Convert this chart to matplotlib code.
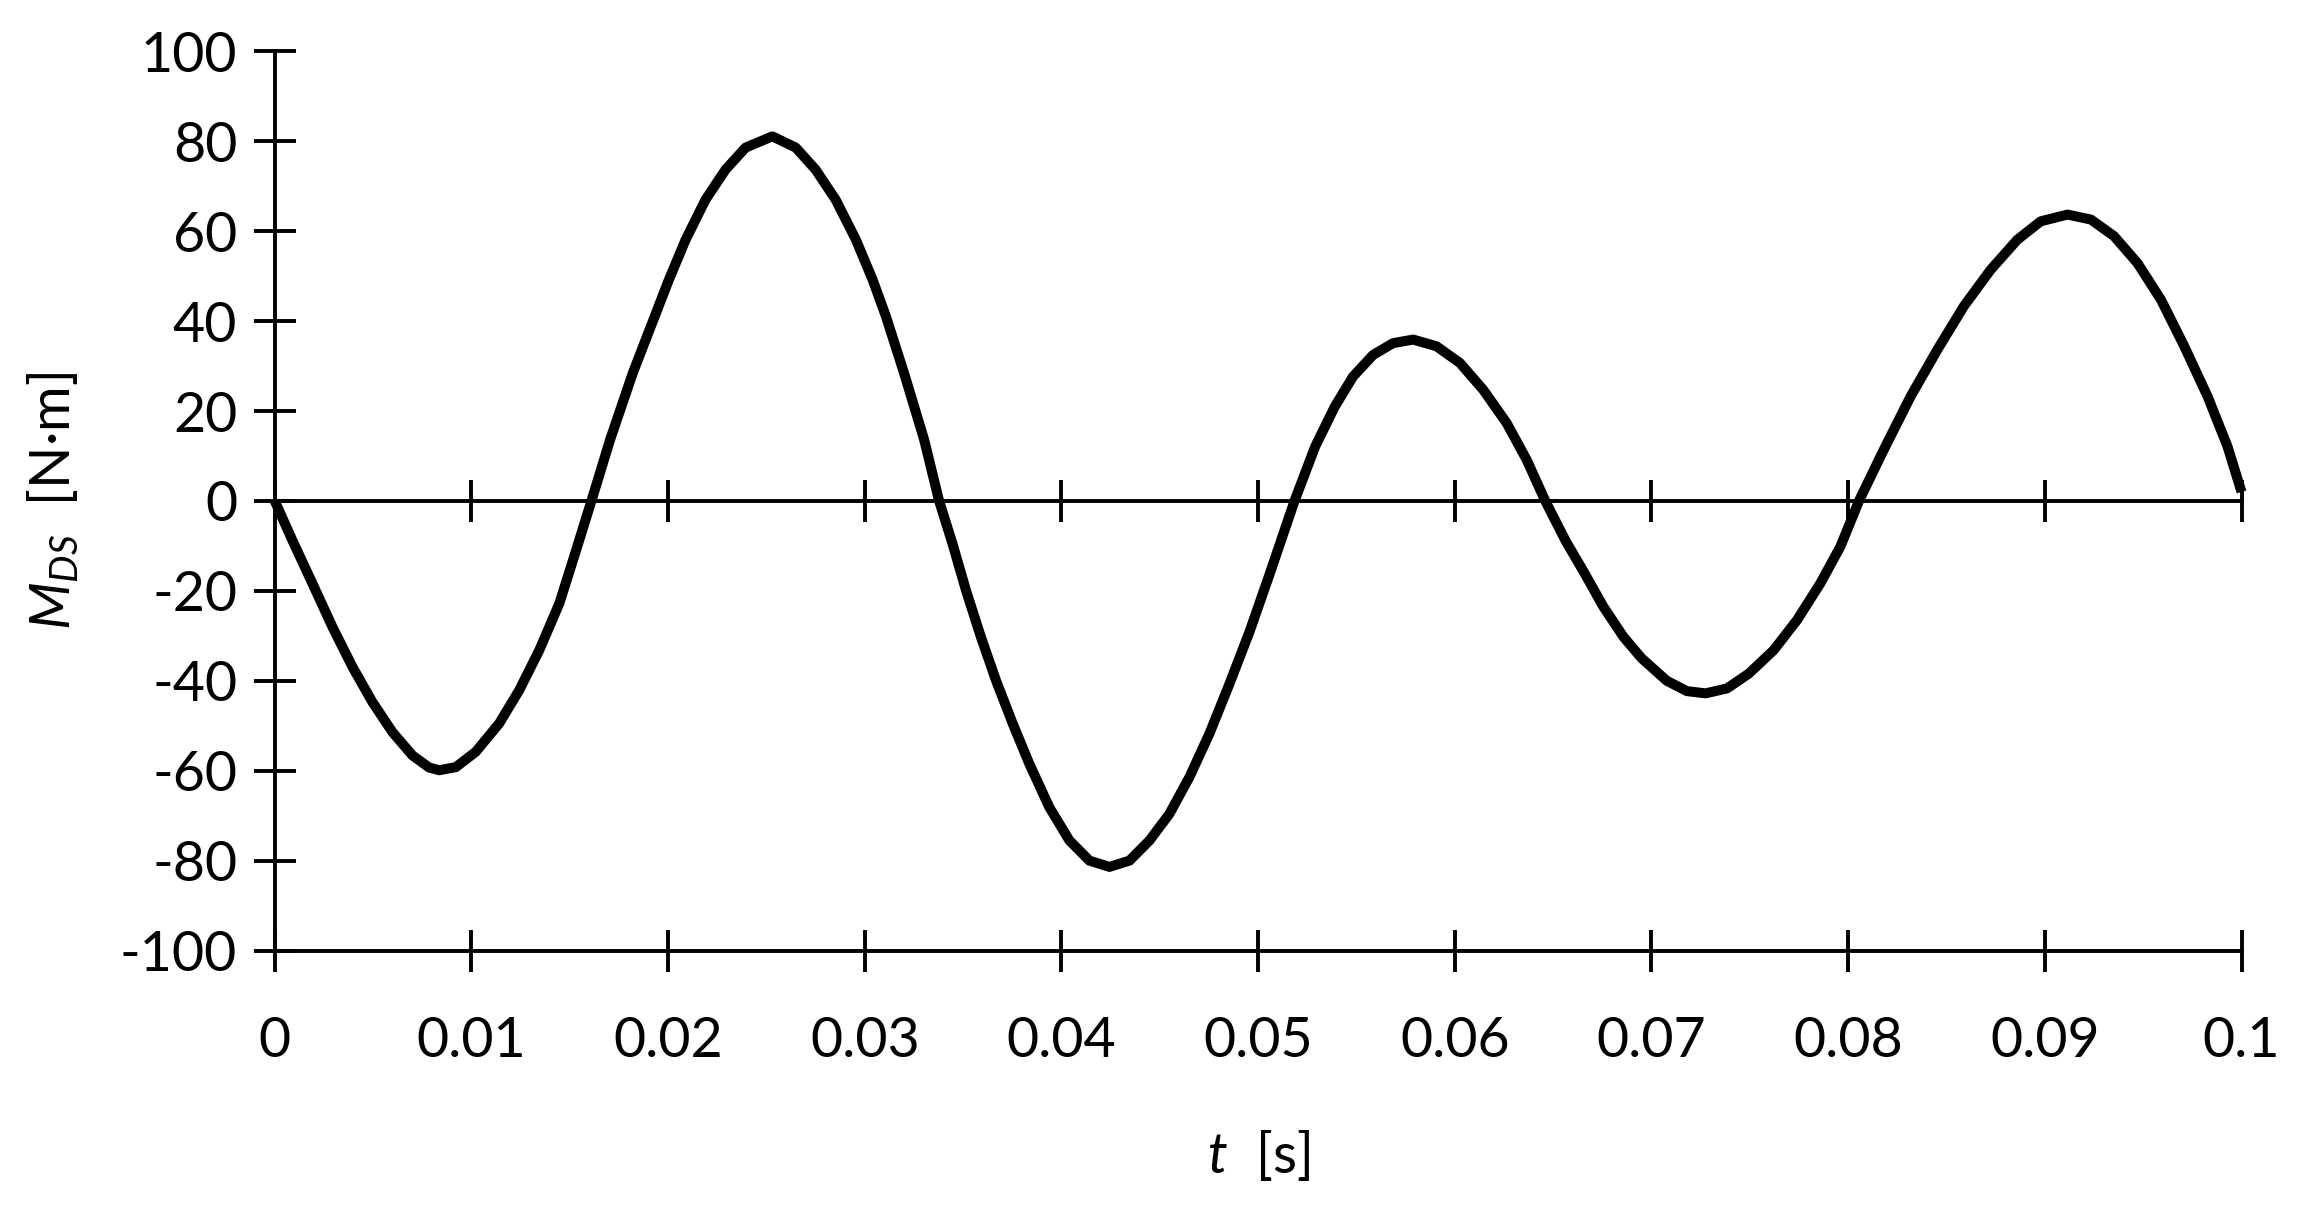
#!/usr/bin/env python3
"""Drive-shaft torque M_DS over time, Excel-style line chart."""

import matplotlib
matplotlib.use("Agg")
import matplotlib.pyplot as plt

plt.rcParams["font.family"] = ["Lato", "DejaVu Sans"]
plt.rcParams["mathtext.fontset"] = "custom"
plt.rcParams["mathtext.rm"] = "Lato"
plt.rcParams["mathtext.it"] = "Lato:italic"
plt.rcParams["axes.unicode_minus"] = False

# time [s] and torque [N·m]
T_S = [0.0, 0.00089, 0.00191, 0.00293, 0.00395, 0.00496, 0.00598, 0.0070,
       0.00785, 0.00836, 0.00921, 0.01022, 0.01141, 0.01243, 0.01345, 0.01447,
       0.01532, 0.0161, 0.01705, 0.0182, 0.02004, 0.02089, 0.0219, 0.02292,
       0.02394, 0.0253, 0.02649, 0.0275, 0.02852, 0.02955, 0.0304, 0.03108,
       0.0320, 0.03302, 0.03378, 0.03446, 0.03514, 0.0359, 0.03667, 0.03752,
       0.03836, 0.03938, 0.0404, 0.04142, 0.04244, 0.04346, 0.04448, 0.04549,
       0.04651, 0.04753, 0.04855, 0.04957, 0.05059, 0.05185, 0.0529, 0.0539,
       0.05483, 0.05585, 0.05686, 0.05788, 0.05907, 0.06026, 0.06145, 0.06264,
       0.06366, 0.0646, 0.06565, 0.0666, 0.06755, 0.06857, 0.0695, 0.07078,
       0.0718, 0.07275, 0.07384, 0.07495, 0.07621, 0.0774, 0.07859, 0.0796,
       0.08055, 0.08181, 0.08317, 0.08453, 0.08588, 0.08724, 0.0886, 0.08979,
       0.09115, 0.09234, 0.09352, 0.09471, 0.0959, 0.09709, 0.09828, 0.09929,
       0.1]
M_DS = [0.0, -8.7, -18.3, -28.0, -36.9, -44.7, -51.4, -56.6,
        -59.3, -59.9, -59.2, -55.8, -49.5, -42.1, -33.2, -22.8,
        -11.0, 0.0, 13.6, 28.4, 49.2, 58.1, 67.0, 73.7,
        78.6, 81.1, 78.6, 73.7, 67.0, 58.1, 49.2, 41.0,
        28.4, 13.6, 0.0, -9.5, -19.8, -30.2, -39.9, -49.5,
        -58.4, -68.1, -75.5, -80.0, -81.4, -80.0, -75.5, -69.6,
        -61.4, -51.7, -40.6, -29.0, -16.2, 0.0, 12.1, 21.0,
        27.7, 32.5, 35.1, 35.9, 34.4, 30.7, 24.7, 17.3,
        9.1, 0.0, -9.0, -16.1, -23.5, -30.2, -35.0, -40.0,
        -42.3, -42.8, -41.7, -38.4, -33.2, -26.5, -18.3, -10.2,
        0.0, 11.4, 23.2, 33.6, 43.3, 51.4, 58.1, 62.2,
        63.7, 62.6, 58.9, 52.9, 44.8, 34.4, 23.2, 12.1,
        2.0]

X_TICKS = [0.0, 0.01, 0.02, 0.03, 0.04, 0.05, 0.06, 0.07, 0.08, 0.09, 0.1]
X_LABELS = ["0", "0.01", "0.02", "0.03", "0.04", "0.05", "0.06", "0.07",
            "0.08", "0.09", "0.1"]
Y_TICKS = [-100, -80, -60, -40, -20, 0, 20, 40, 60, 80, 100]

LW_AXIS = 1.4
TICK_LEN = 15

fig = plt.figure(figsize=(11.515, 6.045), dpi=200)
ax = fig.add_axes([0.1193, 0.2138, 0.854, 0.7437])

ax.plot(T_S, M_DS, color="black", linewidth=3.6, clip_on=False,
        solid_joinstyle="round", solid_capstyle="butt", zorder=3)

ax.set_xlim(0, 0.1)
ax.set_ylim(-100, 100)
ax.set_xticks(X_TICKS)
ax.set_xticklabels(X_LABELS)
ax.set_yticks(Y_TICKS)

for side in ["top", "right"]:
    ax.spines[side].set_visible(False)
for side in ["left", "bottom"]:
    ax.spines[side].set_linewidth(LW_AXIS)

ax.tick_params(axis="both", direction="inout", length=TICK_LEN,
               width=LW_AXIS, labelsize=20)
ax.tick_params(axis="x", pad=16)
ax.tick_params(axis="y", pad=6)

# horizontal zero axis with crossing ticks
zero_ax = ax.secondary_xaxis(0.5)
zero_ax.set_xticks(X_TICKS)
zero_ax.set_xticklabels([])
zero_ax.tick_params(direction="inout", length=TICK_LEN, width=LW_AXIS)
for s in zero_ax.spines.values():
    s.set_linewidth(LW_AXIS)

ax.set_xlabel(r"$t$  [s]", fontsize=20, labelpad=22)
ax.set_ylabel(r"$M_{DS}$  [N·m]", fontsize=20, labelpad=14)

fig.savefig("out.png", dpi=200)
